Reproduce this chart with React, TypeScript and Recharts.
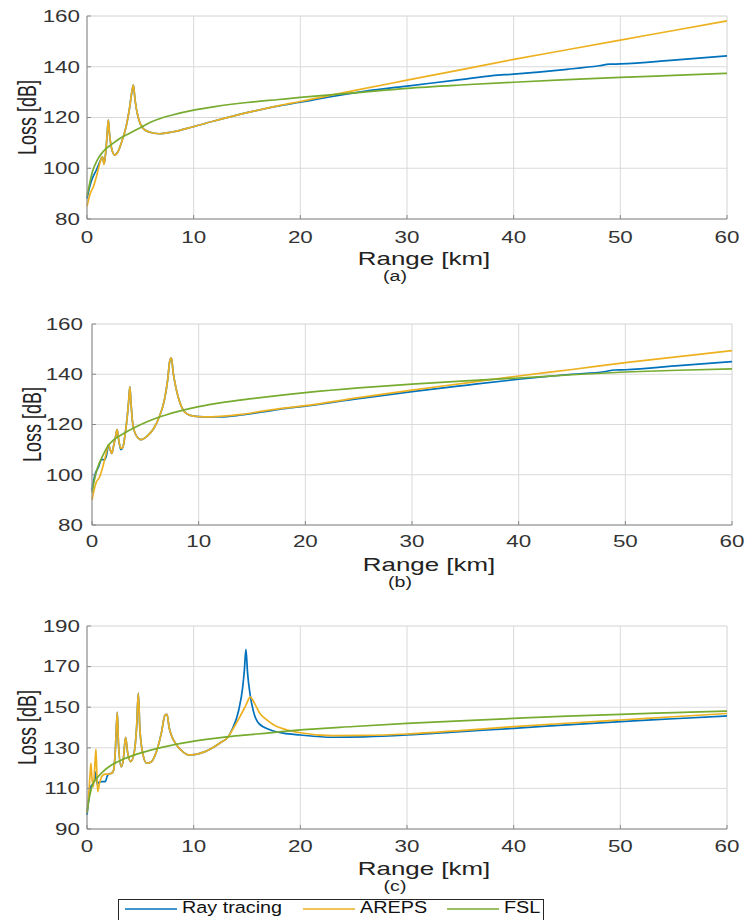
import { LineChart, Line, XAxis, YAxis, CartesianGrid, Legend, Label } from "recharts"

type Pt = [number, number]

// x axis (km)
const rangeTicks = [0, 10, 20, 30, 40, 50, 60]
const rangeMinor = [0, 2, 4, 6, 8, 10, 12, 14, 16, 18, 20, 22, 24, 26, 28, 30, 32, 34, 36, 38, 40, 42, 44, 46, 48, 50, 52, 54, 56, 58, 60]

// y axis (dB)
const lossTicksAB = [80, 100, 120, 140, 160]
const lossMinorAB = [80, 85, 90, 95, 100, 105, 110, 115, 120, 125, 130, 135, 140, 145, 150, 155, 160]
const lossTicksC = [90, 110, 130, 150, 170, 190]
const lossMinorC = [90, 95, 100, 105, 110, 115, 120, 125, 130, 135, 140, 145, 150, 155, 160, 165, 170, 175, 180, 185, 190]

const seriesNames = ["Ray tracing", "AREPS", "FSL"]

// (a)
const rayA: Pt[] = [[0, 88], [0.3, 93.5], [0.6, 97], [0.9, 99.5], [1.2, 102.5], [1.45, 104.5], [1.6, 101.8], [1.75, 106], [1.9, 114], [2.0, 119], [2.1, 114], [2.3, 108], [2.6, 105.2], [2.9, 106.5], [3.3, 111], [3.7, 117], [4.0, 124], [4.2, 130], [4.35, 132.8], [4.5, 127], [4.8, 120], [5.2, 116], [5.75, 114.4], [6.8, 113.6], [8, 114.3], [10, 116.4], [12, 118.7], [15, 121.9], [18, 124.6], [20, 126], [23, 128.3], [26, 130.3], [30, 132.4], [35, 134.9], [38, 136.5], [40, 137.1], [45, 139], [48, 140.4], [49, 141], [50, 141.1], [55, 142.6], [60, 144.3]]
const arepsA: Pt[] = [[0, 85], [0.3, 90], [0.6, 92.7], [0.9, 97], [1.2, 102], [1.45, 104.5], [1.6, 101.5], [1.75, 106], [1.9, 114], [2.0, 119], [2.1, 114], [2.3, 108], [2.6, 105.2], [2.9, 106.5], [3.3, 111], [3.7, 117], [4.0, 124], [4.2, 130], [4.35, 132.8], [4.5, 127], [4.8, 120], [5.2, 116], [5.75, 114.4], [6.8, 113.6], [8, 114.3], [10, 116.4], [12, 118.7], [15, 121.9], [18, 124.7], [20, 126.3], [25, 130.6], [30, 134.7], [35, 138.8], [40, 142.9], [45, 146.7], [50, 150.5], [55, 154.3], [60, 158.1]]
const fslA: Pt[] = [[0, 89], [0.2, 93], [0.5, 98.5], [1, 103.5], [1.5, 106.5], [2.5, 110], [3, 111.5], [4, 113.8], [5, 116], [6, 118.2], [7, 119.8], [8, 121], [10, 122.9], [12, 124.3], [15, 125.9], [18, 127.1], [20, 127.9], [25, 129.7], [30, 131.5], [35, 132.8], [40, 133.9], [45, 134.9], [50, 135.8], [55, 136.6], [60, 137.4]]

// (b)
const rayB: Pt[] = [[0, 94], [0.28, 100], [0.6, 103], [0.9, 106], [1.2, 106], [1.4, 108.5], [1.55, 112], [1.7, 110], [1.85, 108.5], [2.0, 111], [2.2, 115], [2.35, 118], [2.5, 114], [2.7, 110], [2.9, 111], [3.1, 116], [3.3, 123], [3.45, 130], [3.55, 135], [3.65, 129], [3.8, 121], [4.1, 116], [4.6, 114], [5.2, 115.5], [5.8, 118.5], [6.3, 123], [6.8, 130], [7.1, 138], [7.3, 145.5], [7.45, 146.5], [7.6, 141], [7.9, 134], [8.3, 128], [8.8, 124.5], [9.5, 123.3], [10.5, 123], [12, 123], [14, 123.8], [16, 125], [18, 126.3], [20, 127.3], [25, 130.3], [30, 133.1], [35, 135.6], [40, 138], [45, 140], [48, 141], [49, 141.7], [50, 141.8], [55, 143.4], [60, 145]]
const arepsB: Pt[] = [[0, 90], [0.2, 94], [0.4, 97], [0.7, 99], [1.0, 103], [1.3, 108], [1.55, 112], [1.7, 110], [1.85, 108.5], [2.0, 111], [2.2, 115], [2.35, 118], [2.5, 114], [2.7, 110.5], [2.9, 111], [3.1, 116], [3.3, 123], [3.45, 130], [3.55, 135], [3.65, 129], [3.8, 121], [4.1, 116], [4.6, 114], [5.2, 115.5], [5.8, 118.5], [6.3, 123], [6.8, 130], [7.1, 138], [7.3, 145.5], [7.45, 146.5], [7.6, 141], [7.9, 134], [8.3, 128], [8.8, 124.5], [9.5, 123.3], [10.5, 123], [12, 123.2], [14, 124], [16, 125.3], [18, 126.5], [20, 127.5], [25, 130.7], [30, 133.7], [35, 136.5], [40, 139.3], [45, 141.9], [50, 144.6], [55, 147], [60, 149.4]]
const fslB: Pt[] = [[0, 93], [0.2, 97.5], [0.5, 102.5], [1, 107.5], [1.5, 111.5], [2, 113.8], [3, 116.5], [4, 118.8], [5, 120.8], [6, 122.5], [7, 123.9], [8, 125.1], [10, 127.1], [12, 128.6], [15, 130.3], [18, 131.8], [20, 132.7], [25, 134.6], [30, 136.1], [35, 137.4], [40, 138.5], [45, 139.8], [50, 140.9], [55, 141.6], [60, 142.1]]

// (c)
const rayC: Pt[] = [[0, 97], [0.15, 104], [0.3, 110], [0.5, 112], [0.7, 114], [0.8, 118], [0.95, 112], [1.1, 113], [1.4, 113.3], [1.7, 113.3], [1.9, 116], [2.0, 117], [2.3, 117.5], [2.5, 119], [2.65, 128], [2.84, 147.5], [2.95, 132], [3.2, 120.7], [3.4, 124], [3.62, 135.2], [3.8, 128], [4.1, 123.2], [4.4, 127], [4.65, 140], [4.81, 156.8], [4.95, 140], [5.2, 128], [5.6, 122.4], [6.0, 123], [6.5, 128], [7.0, 138], [7.3, 146], [7.5, 146.5], [7.7, 140], [8.0, 135], [8.4, 131.4], [9.0, 128], [9.5, 126.5], [10.2, 126.8], [11, 128], [11.7, 129.8], [12.5, 132.5], [13.25, 135.5], [13.6, 139], [14.2, 148], [14.6, 160], [14.75, 168], [14.9, 178.5], [15.05, 167], [15.3, 156], [15.6, 148], [16.1, 142], [17.2, 138.8], [18.4, 137.2], [20, 136.3], [23, 135.2], [26, 135.4], [30, 136.3], [35, 138], [40, 139.6], [45, 141.3], [50, 142.9], [55, 144.3], [60, 145.7]]
const arepsC: Pt[] = [[0, 98], [0.15, 106], [0.3, 118], [0.37, 122.4], [0.45, 116], [0.6, 110.8], [0.72, 120], [0.84, 129.3], [0.92, 118], [1.0, 108.4], [1.15, 112], [1.4, 116], [1.7, 117], [2.0, 117], [2.3, 117.5], [2.5, 119], [2.65, 128], [2.84, 147.5], [2.95, 132], [3.2, 120.7], [3.4, 124], [3.62, 135.2], [3.8, 128], [4.1, 123.2], [4.4, 127], [4.65, 140], [4.81, 156.8], [4.95, 140], [5.2, 128], [5.6, 122.4], [6.0, 123], [6.5, 128], [7.0, 138], [7.3, 146], [7.5, 146.5], [7.7, 140], [8.0, 135], [8.4, 131.4], [9.0, 128], [9.5, 126.5], [10.2, 126.8], [11, 128], [11.7, 129.8], [12.5, 132.5], [13.25, 135.5], [13.6, 138.5], [14.3, 145], [14.9, 151], [15.3, 155], [15.7, 152], [16.2, 147], [16.8, 144], [17.6, 141], [18.5, 139.2], [20, 137.4], [23, 136], [26, 136.1], [30, 136.8], [35, 138.5], [40, 140.4], [45, 142.1], [50, 143.7], [55, 145.3], [60, 146.9]]
const fslC: Pt[] = [[0, 98], [0.1, 102], [0.3, 107.5], [0.5, 111.5], [1, 115.5], [1.5, 118.3], [2.3, 121.5], [3.5, 124.6], [5.4, 128], [7, 130.2], [9.5, 132.8], [11, 134], [13.3, 135.5], [15.3, 136.5], [18, 137.8], [20, 138.8], [25, 140.5], [30, 142], [35, 143.3], [40, 144.5], [45, 145.6], [50, 146.5], [55, 147.3], [60, 148.1]]

const BLUE = "#0072BD"
const YELLOW = "#EDB120"
const GREEN = "#77AC30"
const AXIS = "#8a8a8a"
const FONT = "'Liberation Sans', Arial, sans-serif"

const toRows = (pts: Pt[]) => pts.map(([range, loss]) => ({ range, loss }))

function XTick({ x, y, payload }: any) {
  return (
    <g transform={`translate(${x},${y}) scale(1.4,1)`}>
      <text textAnchor="middle" dy="0.36em" fontSize={16} fill="#333" fontFamily={FONT}>
        {payload.value}
      </text>
    </g>
  )
}

function YTick({ x, y, payload }: any) {
  return (
    <g transform={`translate(${x},${y}) scale(1.4,1)`}>
      <text textAnchor="end" dy="0.36em" fontSize={16} fill="#333" fontFamily={FONT}>
        {payload.value}
      </text>
    </g>
  )
}

const rangeLabel = (tag: string) => (p: any) => {
  const vb = p.viewBox || { x: 0, y: 0, width: 0 }
  const cx = vb.x + vb.width / 2
  return (
    <g fontFamily={FONT} fill="#222">
      <g transform={`translate(${cx + 17},${vb.y + 40}) scale(1.44,1)`}>
        <text textAnchor="middle" dy="0.36em" fontSize={18}>Range [km]</text>
      </g>
      <g transform={`translate(${cx - 12},${vb.y + 57}) scale(1.4,1)`}>
        <text textAnchor="middle" dy="0.36em" fontSize={14}>({tag})</text>
      </g>
    </g>
  )
}

const lossLabel = (dx: number) => (p: any) => {
  const vb = p.viewBox || { x: 0, y: 0, width: 0, height: 0 }
  return (
    <g transform={`translate(${vb.x + vb.width - dx},${vb.y + vb.height / 2}) scale(1.4,1) rotate(-90)`}>
      <text textAnchor="middle" dy="0.36em" fontSize={18} fill="#222" fontFamily={FONT}>
        Loss [dB]
      </text>
    </g>
  )
}

function LegendBox({ payload }: any) {
  const offsets = [7, 185, 329]
  const items = [...(payload || [])].sort(
    (a: any, b: any) => seriesNames.indexOf(a.value) - seriesNames.indexOf(b.value)
  )
  return (
    <svg width={426} height={24} style={{ display: "block" }}>
      <rect x={0.5} y={0.5} width={425} height={30} fill="white" stroke="#262626" />
      {items.map((item: any, i: number) => (
        <g key={item.value} transform={`translate(${offsets[i]},0)`}>
          <line x1={0} x2={52} y1={10} y2={10} stroke={item.color} strokeWidth={1.5} />
          <g transform="translate(57,14) scale(1.2,1)">
            <text fontSize={16.5} fill="#111" fontFamily={FONT}>{item.value}</text>
          </g>
        </g>
      ))}
    </svg>
  )
}

interface PanelProps {
  top: number
  height: number
  plotLeft: number
  plotRight: number
  plotTop: number
  plotBottom: number
  yDomain: [number, number]
  yTicks: number[]
  yMinor: number[]
  ray: Pt[]
  areps: Pt[]
  fsl: Pt[]
  tag: string
  xGap: number
  yGap: number
  labelDx: number
  withLegend?: boolean
}

function Panel(p: PanelProps) {
  const lineProps = { type: "monotone" as const, dataKey: "loss", dot: false, strokeWidth: 1.7, isAnimationActive: false }
  return (
    <div style={{ position: "absolute", left: 0, top: p.top }}>
      <LineChart
        width={745}
        height={p.height}
        margin={{ top: p.plotTop, right: 745 - p.plotRight, bottom: 0, left: 0 }}
      >
        <XAxis xAxisId="minor" type="number" dataKey="range" domain={[0, 60]} ticks={rangeMinor} hide />
        <YAxis yAxisId="minor" type="number" domain={p.yDomain} ticks={p.yMinor} hide />
        <CartesianGrid xAxisId="minor" yAxisId="minor" stroke="#efefef" />
        <CartesianGrid stroke="#dadada" />
        <XAxis
          xAxisId="top"
          orientation="top"
          type="number"
          dataKey="range"
          domain={[0, 60]}
          ticks={rangeTicks}
          height={0}
          tick={false}
          tickSize={-4}
          stroke={AXIS}
        />
        <YAxis
          yAxisId="right"
          orientation="right"
          type="number"
          domain={p.yDomain}
          ticks={p.yTicks}
          width={0}
          tick={false}
          tickSize={-4}
          stroke={AXIS}
        />
        <XAxis
          type="number"
          dataKey="range"
          domain={[0, 60]}
          ticks={rangeTicks}
          interval={0}
          height={p.height - p.plotBottom}
          tickSize={-4}
          tickMargin={p.xGap}
          tick={<XTick />}
          stroke={AXIS}
        >
          <Label content={rangeLabel(p.tag)} />
        </XAxis>
        <YAxis
          type="number"
          domain={p.yDomain}
          ticks={p.yTicks}
          interval={0}
          width={p.plotLeft}
          tickSize={-4}
          tickMargin={p.yGap}
          tick={<YTick />}
          stroke={AXIS}
        >
          <Label content={lossLabel(p.labelDx)} />
        </YAxis>
        <Line {...lineProps} data={toRows(p.ray)} name={seriesNames[0]} stroke={BLUE} />
        <Line {...lineProps} data={toRows(p.areps)} name={seriesNames[1]} stroke={YELLOW} />
        <Line {...lineProps} data={toRows(p.fsl)} name={seriesNames[2]} stroke={GREEN} />
        {p.withLegend && (
          <Legend
            layout="horizontal"
            verticalAlign="middle"
            align="center"
            content={<LegendBox />}
            wrapperStyle={{ position: "absolute", left: 118, top: 299, width: 426, height: 24, bottom: "auto", right: "auto" }}
          />
        )}
      </LineChart>
    </div>
  )
}

export default function App() {
  return (
    <div
      style={{
        position: "absolute",
        left: 0,
        top: 0,
        width: 745,
        height: 920,
        overflow: "hidden",
        background: "white"
      }}
    >
      <Panel
        top={0} height={290} plotLeft={87} plotRight={727} plotTop={16} plotBottom={219}
        yDomain={[80, 160]} yTicks={lossTicksAB} yMinor={lossMinorAB}
        ray={rayA} areps={arepsA} fsl={fslA} tag="a" xGap={22} yGap={11} labelDx={60}
      />
      <Panel
        top={300} height={290} plotLeft={92} plotRight={732} plotTop={24} plotBottom={225}
        yDomain={[80, 160]} yTicks={lossTicksAB} yMinor={lossMinorAB}
        ray={rayB} areps={arepsB} fsl={fslB} tag="b" xGap={20} yGap={13} labelDx={60}
      />
      <Panel
        top={600} height={320} plotLeft={87} plotRight={727} plotTop={26} plotBottom={229}
        yDomain={[90, 190]} yTicks={lossTicksC} yMinor={lossMinorC}
        ray={rayC} areps={arepsC} fsl={fslC} tag="c" xGap={21} yGap={11} labelDx={60} withLegend
      />
    </div>
  )
}
